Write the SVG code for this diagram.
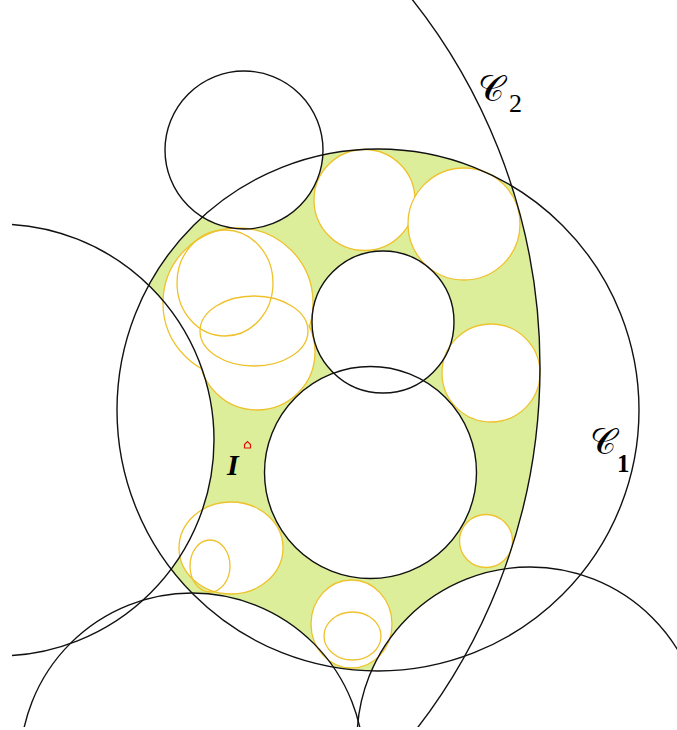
<svg xmlns="http://www.w3.org/2000/svg" width="677" height="730" viewBox="0 0 677 730">
<style>
.blk{fill:none;stroke:#111;stroke-width:1.4}
.yel{fill:#fff;stroke:#eec22c;stroke-width:1.3}
.yeln{fill:none;stroke:#eec22c;stroke-width:1.3}
.lbl{font-family:"DejaVu Serif","DejaVu Sans","Noto Sans",serif;fill:#000}
.sub{font-family:"Liberation Serif",serif;fill:#000}
</style>
<defs>
<clipPath id="frame"><rect x="12" y="0" width="665" height="727"/></clipPath>
<clipPath id="inC2"><circle cx="-52" cy="367" r="592"/></clipPath>
<mask id="holes" maskUnits="userSpaceOnUse" x="0" y="0" width="677" height="730">
<rect x="0" y="0" width="677" height="730" fill="#fff"/>
<circle cx="-2" cy="440" r="216" fill="#000"/>
<circle cx="244" cy="150" r="79" fill="#000"/>
<circle cx="383" cy="322" r="71" fill="#000"/>
<circle cx="370.5" cy="472.5" r="106" fill="#000"/>
<circle cx="192" cy="765" r="172" fill="#000"/>
<circle cx="530" cy="740" r="173" fill="#000"/>
</mask>
</defs>
<rect x="0" y="0" width="677" height="730" fill="#fff"/>
<g id="region">
<circle cx="378" cy="410" r="261" fill="#ddee9b" clip-path="url(#inC2)" mask="url(#holes)"/>
</g>
<g id="yellow-circles">
<circle id="yC" class="yel" cx="238" cy="303" r="75"/>
<circle id="yD" class="yel" cx="257" cy="352" r="58"/>
<circle class="yel" cx="238" cy="303" r="74" style="stroke:none"/>
<ellipse id="yA" class="yeln" cx="225" cy="283" rx="48" ry="53"/>
<ellipse id="yB" class="yeln" cx="254" cy="331" rx="54" ry="35"/>
<circle id="ya" class="yel" cx="364.5" cy="200" r="50.5"/>
<circle id="yb" class="yel" cx="464" cy="224" r="56"/>
<circle id="yc" class="yel" cx="491" cy="373" r="49"/>
<circle id="yd" class="yel" cx="486" cy="541" r="26.5"/>
<ellipse id="ye" class="yel" cx="351.5" cy="624" rx="40.5" ry="44"/>
<ellipse id="yf" class="yeln" cx="352.5" cy="636" rx="28.5" ry="24"/>
<ellipse id="yg" class="yel" cx="231" cy="548" rx="52" ry="46"/>
<ellipse id="yh" class="yeln" cx="210" cy="566" rx="20" ry="26"/>
</g>
<g id="black-circles" clip-path="url(#frame)">
<circle id="C1" class="blk" cx="378" cy="410" r="261"/>
<circle id="C2" class="blk" cx="-52" cy="367" r="592"/>
<circle id="left" class="blk" cx="-2" cy="440" r="216"/>
<circle id="top" class="blk" cx="244" cy="150" r="79"/>
<circle id="middle" class="blk" cx="383" cy="322" r="71"/>
<circle id="inner" class="blk" cx="370.5" cy="472.5" r="106"/>
<circle id="bottom-left" class="blk" cx="192" cy="765" r="172"/>
<circle id="bottom-right" class="blk" cx="530" cy="740" r="173"/>
</g>
<g id="labels">
<text class="lbl" x="478" y="101" font-size="36">𝒞</text>
<text class="sub" x="509" y="112" font-size="26">2</text>
<text class="lbl" x="590" y="454" font-size="36">𝒞</text>
<text class="sub" x="617" y="472" font-size="25" font-weight="bold">1</text>
<text class="sub" x="227" y="475" font-size="30" font-weight="bold" font-style="italic">I</text>
<polygon points="244.5,444.5 247.5,441.5 250.5,444.5 250.5,448 244.5,448" fill="none" stroke="#e01010" stroke-width="1.2"/>
</g>
</svg>
